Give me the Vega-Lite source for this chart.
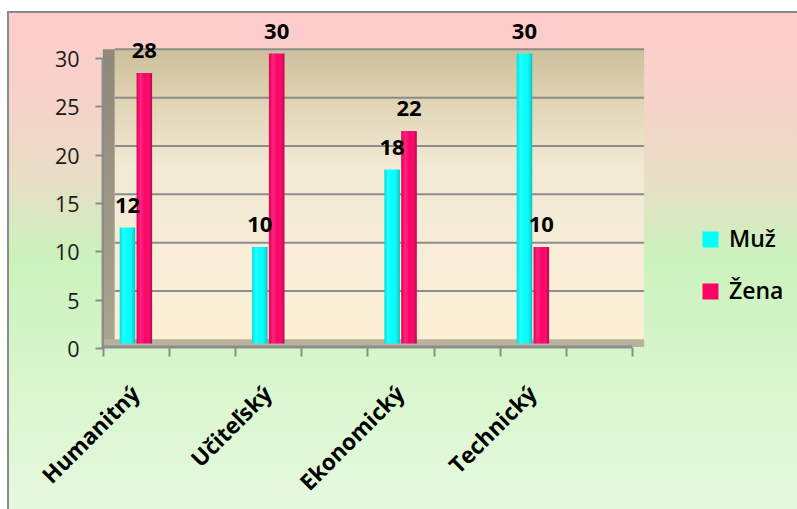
{
  "$schema": "https://vega.github.io/schema/vega-lite/v6.json",
  "width": 790,
  "height": 498,
  "autosize": {"type": "none"},
  "padding": {"left": 8, "top": 12, "right": 0, "bottom": 0},
  "background": "#ffffff",
  "view": {
    "stroke": "#8A8A8A",
    "strokeWidth": 2,
    "fill": {
      "gradient": "linear", "x1": 0, "y1": 0, "x2": 0, "y2": 1,
      "stops": [
        {"offset": 0, "color": "#FFCCCC"},
        {"offset": 0.18, "color": "#F6D3C9"},
        {"offset": 0.34, "color": "#E7DEC5"},
        {"offset": 0.49, "color": "#CBF2BD"},
        {"offset": 0.74, "color": "#D9F6CD"},
        {"offset": 1, "color": "#E6F9DF"}
      ]
    }
  },
  "config": {
    "font": "Open Sans"
  },
  "datasets": {
    "scores": [
      {"cat": "Humanitný", "series": "Muž", "value": 12},
      {"cat": "Humanitný", "series": "Žena", "value": 28},
      {"cat": "Učiteľský", "series": "Muž", "value": 10},
      {"cat": "Učiteľský", "series": "Žena", "value": 30},
      {"cat": "Ekonomický", "series": "Muž", "value": 18},
      {"cat": "Ekonomický", "series": "Žena", "value": 22},
      {"cat": "Technický", "series": "Muž", "value": 30},
      {"cat": "Technický", "series": "Žena", "value": 10}
    ],
    "grid": [{"v": 5}, {"v": 10}, {"v": 15}, {"v": 20}, {"v": 25}, {"v": 30}],
    "one": [{"k": 1}]
  },
  "data": {"name": "scores"},
  "layer": [
    {
      "data": {"name": "one"},
      "mark": {
        "type": "rect", "xOffset": 0, "x2Offset": 12, "yOffset": 3.5, "y2Offset": -4.2,
        "fill": {"gradient": "linear", "x1": 0, "y1": 0, "x2": 0, "y2": 1,
          "stops": [{"offset": 0, "color": "#8E8877"}, {"offset": 1, "color": "#ABA491"}]}
      },
      "encoding": {
        "x": {
          "datum": "Humanitný", "type": "nominal", "bandPosition": 0,
          "scale": {
            "domain": ["_a", "Humanitný", "_1", "Učiteľský", "_2", "Ekonomický", "_3", "Technický", "_4", "_b", "_c"],
            "paddingInner": 0, "paddingOuter": 0.47, "align": 0.4606
          },
          "axis": {
            "title": null,
            "values": ["Humanitný", "_1", "Učiteľský", "_2", "Ekonomický", "_3", "Technický", "_4"],
            "offset": -163, "domain": false, "grid": false, "tickBand": "extent",
            "ticks": true, "tickSize": 9, "tickWidth": 2, "tickColor": "#8C8C8C",
            "labelExpr": "indexof(datum.label, '_') == 0 ? '' : datum.label",
            "labelAngle": -45, "labelAlign": "right", "labelBaseline": "middle",
            "labelPadding": 34, "labelFont": "Open Sans", "labelFontSize": 22.5,
            "labelFontWeight": "bold", "labelColor": "#000000", "labelOverlap": false,
            "labelBound": false, "labelFlush": false
          }
        },
        "x2": {"datum": "Humanitný", "bandPosition": 0},
        "y": {
          "datum": 0, "type": "quantitative",
          "scale": {"domain": [-17.22, 34.3], "nice": false, "zero": false},
          "axis": {
            "title": null,
            "offset": -95, "domain": false, "grid": false,
            "values": [0, 5, 10, 15, 20, 25, 30],
            "tickSize": 8, "tickWidth": 2, "tickColor": "#8C8C8C", "tickOffset": 4.5,
            "labelOffset": 2.5, "labelPadding": 16,
            "labelFont": "Open Sans", "labelFontSize": 21.5, "labelColor": "#1A1A1A",
            "labelFontWeight": "normal"
          }
        },
        "y2": {"datum": 30}
      }
    },
    {
      "data": {"name": "one"},
      "mark": {
        "type": "rect", "xOffset": 12, "x2Offset": 12, "yOffset": -4.2, "y2Offset": -4.2,
        "fill": {"gradient": "linear", "x1": 0, "y1": 0, "x2": 0, "y2": 1,
          "stops": [
            {"offset": 0, "color": "#CDBF9B"},
            {"offset": 0.2, "color": "#E2D6B7"},
            {"offset": 0.4, "color": "#F1E9D4"},
            {"offset": 0.75, "color": "#F8EDD8"},
            {"offset": 1, "color": "#FDEFD4"}
          ]}
      },
      "encoding": {
        "x": {"datum": "Humanitný", "type": "nominal", "bandPosition": 0},
        "x2": {"datum": "_4", "bandPosition": 1},
        "y": {"datum": 0, "type": "quantitative"},
        "y2": {"datum": 30}
      }
    },
    {
      "data": {"name": "one"},
      "mark": {
        "type": "rect", "xOffset": 0, "x2Offset": 12, "yOffset": -4.2, "y2Offset": 3.5,
        "fill": "#B8B29D"
      },
      "encoding": {
        "x": {"datum": "Humanitný", "type": "nominal", "bandPosition": 0},
        "x2": {"datum": "_4", "bandPosition": 1},
        "y": {"datum": 0, "type": "quantitative"},
        "y2": {"datum": 0}
      }
    },
    {
      "data": {"name": "grid"},
      "mark": {"type": "rule", "color": "#8C8C8C", "strokeWidth": 2, "xOffset": 12, "x2Offset": 12, "yOffset": -4.2},
      "encoding": {
        "x": {"datum": "Humanitný", "type": "nominal", "bandPosition": 0},
        "x2": {"datum": "_4", "bandPosition": 1},
        "y": {"field": "v", "type": "quantitative"}
      }
    },
    {
      "data": {"name": "one"},
      "mark": {"type": "rule", "color": "#8C8C8C", "strokeWidth": 3, "yOffset": 3.5},
      "encoding": {
        "x": {"datum": "Humanitný", "type": "nominal", "bandPosition": 0},
        "x2": {"datum": "_4", "bandPosition": 1},
        "y": {"datum": 0, "type": "quantitative"}
      }
    },
    {
      "data": {"name": "one"},
      "mark": {"type": "rule", "color": "#8C8C8C", "strokeWidth": 2.5, "yOffset": 4.5, "y2Offset": 4.5},
      "encoding": {
        "x": {"datum": "Humanitný", "type": "nominal", "bandPosition": 0},
        "y": {"datum": 0, "type": "quantitative"},
        "y2": {"datum": 30}
      }
    },
    {
      "mark": {"type": "bar"},
      "encoding": {
        "x": {"field": "cat", "type": "nominal", "sort": null},
        "xOffset": {"field": "series", "type": "nominal", "scale": {"paddingInner": 0.08, "paddingOuter": 1}},
        "y": {"field": "value", "type": "quantitative"},
        "y2": {"datum": 0},
        "color": {
          "field": "series", "type": "nominal",
          "scale": {"domain": ["Muž", "Žena"], "range": ["#00FFFF", "#FF0066"]},
          "legend": {
            "title": null, "orient": "none", "legendX": 691, "legendY": 216,
            "symbolType": "square", "symbolSize": 256, "symbolStrokeWidth": 0,
            "labelFont": "Open Sans", "labelFontSize": 23, "labelFontWeight": 600,
            "labelColor": "#000000", "labelOffset": 7, "rowPadding": 28, "padding": 0
          }
        }
      }
    },
    {
      "mark": {
        "type": "bar",
        "fill": {"gradient": "linear", "x1": 0, "y1": 0, "x2": 1, "y2": 0,
          "stops": [
            {"offset": 0, "color": "rgba(0,0,0,0.10)"},
            {"offset": 0.25, "color": "rgba(255,255,255,0.15)"},
            {"offset": 0.55, "color": "rgba(255,255,255,0)"},
            {"offset": 1, "color": "rgba(0,0,0,0.25)"}
          ]}
      },
      "encoding": {
        "x": {"field": "cat", "type": "nominal", "sort": null},
        "xOffset": {"field": "series", "type": "nominal"},
        "y": {"field": "value", "type": "quantitative"},
        "y2": {"datum": 0}
      }
    },
    {
      "mark": {"type": "text", "font": "Open Sans", "fontSize": 22, "fontWeight": "bold", "color": "#000000", "baseline": "alphabetic", "dy": -15},
      "encoding": {
        "x": {"field": "cat", "type": "nominal", "sort": null},
        "xOffset": {"field": "series", "type": "nominal"},
        "y": {"field": "value", "type": "quantitative"},
        "text": {"field": "value", "type": "quantitative"}
      }
    }
  ]
}
